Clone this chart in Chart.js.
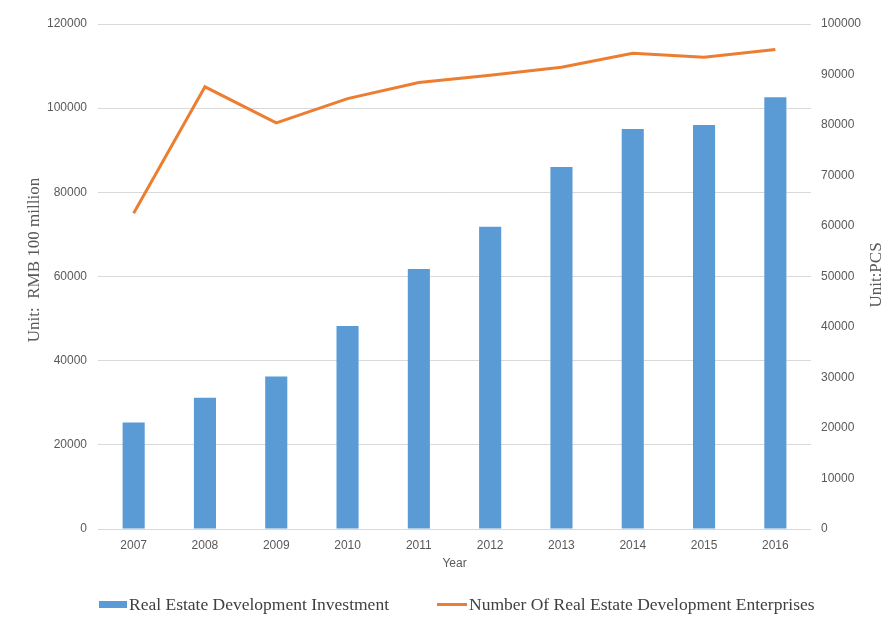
<!DOCTYPE html>
<html>
<head>
<meta charset="utf-8">
<script src="https://cdn.jsdelivr.net/npm/chart.js@4"></script>
<style>
  body { margin: 0; background: #fff; }
  #wrap { position: relative; width: 893px; height: 626px; }
  .leg { position: absolute; top: 594px; font: 17.5px "Liberation Serif", serif; color: #404040; white-space: nowrap; display: flex; align-items: center; }
  .leg i { display: inline-block; margin-right: 2px; }
</style>
</head>
<body>
<div id="wrap">
  <canvas id="myChart" width="893" height="626"></canvas>
  <div class="leg" style="left:99px"><i style="width:28px;height:7px;background:#5b9bd5"></i>Real Estate Development Investment</div>
  <div class="leg" style="left:437px"><i style="width:30px;height:3px;background:#ed7d31"></i>Number Of Real Estate Development Enterprises</div>
</div>
<script>
  // data
  var years = ["2007", "2008", "2009", "2010", "2011", "2012", "2013", "2014", "2015", "2016"];
  var investment = [25280, 31203, 36242, 48259, 61797, 71804, 86013, 95036, 95979, 102581];
  var enterprises = [62518, 87562, 80407, 85218, 88419, 89859, 91444, 94197, 93426, 94948];

  var tickFont = { family: "Liberation Sans", size: 12 };
  var tickColor = '#595959';
  var plain = function (v) { return String(v); };

  // axis titles drawn at fixed spots
  var axisTitles = {
    id: 'axisTitles',
    afterDraw: function (chart) {
      var c = chart.ctx;
      c.save();
      c.font = '17px "Liberation Serif"';
      c.fillStyle = '#595959';
      c.textAlign = 'center';
      c.textBaseline = 'middle';
      c.translate(35, 260);
      c.rotate(-Math.PI / 2);
      c.fillText('Unit:  RMB 100 million', 0, 0);
      c.restore();
      c.save();
      c.font = '17px "Liberation Serif"';
      c.fillStyle = '#595959';
      c.textAlign = 'center';
      c.textBaseline = 'middle';
      c.translate(877, 275);
      c.rotate(-Math.PI / 2);
      c.fillText('Unit:PCS', 0, 0);
      c.restore();
    }
  };

  var ctx = document.getElementById('myChart').getContext('2d');
  var myChart = new Chart(ctx, {
    data: {
      labels: years,
      datasets: [
        {
          type: 'line',
          label: 'Number Of Real Estate Development Enterprises',
          data: enterprises,
          yAxisID: 'y1',
          borderColor: '#ed7d31',
          borderWidth: 3,
          pointRadius: 0,
          tension: 0,
          order: 0
        },
        {
          type: 'bar',
          label: 'Real Estate Development Investment',
          data: investment,
          yAxisID: 'y',
          backgroundColor: '#5b9bd5',
          categoryPercentage: 0.31,
          barPercentage: 1,
          order: 1
        }
      ]
    },
    options: {
      responsive: false,
      animation: false,
      layout: { padding: { top: 24, bottom: 52, left: 0, right: 0 } },
      plugins: { legend: { display: false }, tooltip: { enabled: false } },
      scales: {
        x: {
          grid: { display: false, drawTicks: false },
          border: { display: false },
          ticks: { font: tickFont, color: tickColor, padding: 9 },
          title: { display: true, text: 'Year', font: tickFont, color: tickColor, padding: { top: 0, bottom: 3 } },
          afterFit: function (s) { s.height = 45; }
        },
        y: {
          position: 'left',
          min: 0, max: 120000,
          ticks: { stepSize: 20000, font: tickFont, color: tickColor, padding: 11, callback: plain },
          grid: { color: '#d9d9d9', drawTicks: false },
          border: { display: false },
          afterFit: function (s) { s.width = 98; }
        },
        y1: {
          position: 'right',
          min: 0, max: 100000,
          ticks: { stepSize: 10000, font: tickFont, color: tickColor, padding: 10, callback: plain },
          grid: { drawOnChartArea: false, drawTicks: false },
          border: { display: false },
          afterFit: function (s) { s.width = 82; }
        }
      }
    },
    plugins: [axisTitles]
  });
</script>
</body>
</html>
